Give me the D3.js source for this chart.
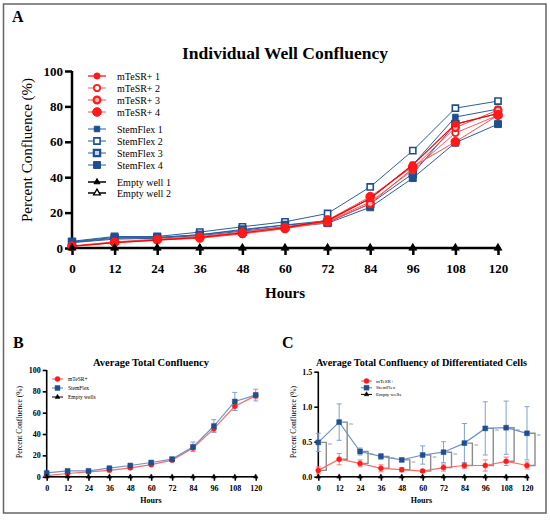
<!DOCTYPE html>
<html>
<head>
<meta charset="utf-8">
<script src="https://cdn.jsdelivr.net/npm/d3@7"></script>
<style>
  body { margin: 0; background: #fff; }
  svg { font-family: "Liberation Serif", "DejaVu Serif", serif; }
</style>
</head>
<body>
<svg width="550" height="520"></svg>
<script>
// hours sampled
const hours = [0, 12, 24, 36, 48, 60, 72, 84, 96, 108, 120];

// panel A - individual wells (% confluence)
const mtesr1 = [1, 3, 4.5, 6, 8.5, 11.5, 15.5, 28, 47, 70, 76];
const mtesr2 = [1.2, 3.5, 5, 6.5, 9, 12, 15, 26, 44, 65, 75];
const mtesr3 = [0.8, 3, 4.5, 5.5, 8, 11, 14.5, 25, 45, 68, 78];
const mtesr4 = [1, 3.2, 4.8, 6, 8.3, 11, 15.8, 29, 46, 60, 75];
const stemflex1 = [3.5, 6, 6, 7.5, 10, 13, 15.5, 28, 47, 74, 78.5];
const stemflex2 = [3.8, 6.5, 6.5, 9, 12, 14.8, 19.5, 34.5, 55, 79, 83];
const stemflex3 = [3.2, 5.5, 5.8, 7.5, 10.5, 13, 14.5, 25, 42, 70, 76];
const stemflex4 = [3, 5, 5.5, 7, 9.5, 12, 14, 23, 39.5, 59.5, 70];
const emptyWell1 = [0, 0, 0, 0, 0, 0, 0, 0, 0, 0, 0];
const emptyWell2 = [0, 0, 0, 0, 0, 0, 0, 0, 0, 0, 0];

// panel B - averages
const avgMtesr = [1, 3, 4.5, 6, 8.3, 11.3, 15.5, 27, 45, 66, 76];
const avgMtesrErr = [0.3, 0.5, 0.5, 0.6, 0.8, 1, 1, 2, 3, 4, 3];
const avgStemflex = [3.5, 5.5, 5.5, 8, 10.5, 13.3, 16.5, 28, 47.5, 70.5, 76.5];
const avgStemflexErr = [0.5, 0.8, 0.8, 1, 1, 1.2, 1.5, 4.5, 6, 8.5, 5.5];
const avgEmpty = [0, 0, 0, 0, 0, 0, 0, 0, 0, 0, 0];

// panel C - differentiated cells
const diffMtesr = [0.09, 0.25, 0.19, 0.12, 0.1, 0.08, 0.13, 0.16, 0.16, 0.22, 0.16];
const diffMtesrErr = [0.05, 0.08, 0.05, 0.05, 0.03, 0.02, 0.05, 0.04, 0.08, 0.06, 0.05];
const diffStemflex = [0.49, 0.78, 0.36, 0.29, 0.24, 0.31, 0.35, 0.48, 0.69, 0.7, 0.62];
const diffStemflexErr = [0.13, 0.26, 0.05, 0.04, 0.02, 0.13, 0.15, 0.28, 0.38, 0.38, 0.38];
const diffEmpty = [0, 0, 0, 0, 0, 0, 0, 0, 0, 0, 0];
const diffSig = ["ns", "ns", "ns", "ns", "ns", "ns", "ns", "ns", "ns", "ns", "ns"];

const red = "#ff1a1a";
const blue = "#1f4f8f";

const svg = d3.select("svg");

// outer frame
svg.append("rect")
  .attr("x", 3.5).attr("y", 4)
  .attr("width", 542.5).attr("height", 509)
  .attr("fill", "none")
  .attr("stroke", "#666")
  .attr("stroke-width", 1.5);

function panelLabel(txt, x, y) {
  svg.append("text")
    .attr("x", x).attr("y", y)
    .attr("font-weight", "bold")
    .attr("font-size", 16)
    .text(txt);
}
panelLabel("A", 12, 22);
panelLabel("B", 13, 348);
panelLabel("C", 282, 348);

function drawAxes(g, x, y, opt) {
  const ax = g.append("g")
    .attr("transform", `translate(0, ${y(0)})`)
    .call(d3.axisBottom(x).tickValues(hours).tickSize(opt.tick).tickPadding(opt.pad).tickFormat(d3.format("d")));
  const ay = g.append("g")
    .attr("transform", `translate(${x(0)}, 0)`)
    .call(d3.axisLeft(y).tickValues(opt.yTicks).tickSize(opt.tick).tickPadding(opt.padY).tickFormat(opt.yFmt));
  [ax, ay].forEach((a) => {
    a.selectAll("path, line").attr("stroke", "#000").attr("stroke-width", opt.sw);
    a.select(".domain").attr("d", a === ax
      ? `M${x(0)},0H${x(120)}`
      : `M0,${y(0)}V${y(opt.yTicks[opt.yTicks.length - 1])}`);
    a.selectAll("text")
      .attr("font-family", "Liberation Serif, serif")
      .attr("font-weight", "bold")
      .attr("font-size", opt.fs)
      .attr("fill", "#000");
  });
}

function marker(sel, m, cx, cy) {
  const sym = m.shape === "circle" ? d3.symbolCircle : m.shape === "square" ? d3.symbolSquare : d3.symbolTriangle;
  return sel.append("path")
    .attr("transform", `translate(${cx}, ${cy})`)
    .attr("d", d3.symbol(sym).size(m.size)())
    .attr("fill", m.fill)
    .attr("stroke", m.stroke)
    .attr("stroke-width", m.sw);
}

function drawSeries(g, x, y, vals, line, m) {
  g.append("path")
    .datum(vals)
    .attr("fill", "none")
    .attr("stroke", line.color)
    .attr("stroke-width", line.width)
    .attr("d", d3.line().x((d, i) => x(hours[i])).y((d) => y(d)));
  vals.forEach((v, i) => marker(g, m, x(hours[i]), y(v)));
}

function drawErr(g, x, y, vals, errs, color, sw, cap) {
  vals.forEach((v, i) => {
    const cx = x(hours[i]);
    const top = y(v + errs[i]);
    const bot = y(Math.max(0, v - errs[i]));
    g.append("path")
      .attr("d", `M${cx},${top}V${bot}M${cx - cap},${top}H${cx + cap}M${cx - cap},${bot}H${cx + cap}`)
      .attr("stroke", color)
      .attr("stroke-width", sw)
      .attr("fill", "none");
  });
}

function legend(g, items, x0, x1, tx, rows, fs) {
  items.forEach((it, i) => {
    const yy = rows[i];
    g.append("line")
      .attr("x1", x0).attr("x2", x1)
      .attr("y1", yy).attr("y2", yy)
      .attr("stroke", it.line.color)
      .attr("stroke-width", it.line.width);
    marker(g, it.m, (x0 + x1) / 2, yy);
    g.append("text")
      .attr("x", tx).attr("y", yy)
      .attr("dy", "0.35em")
      .attr("font-size", fs)
      .text(it.name);
  });
}

// ---------------- panel A ----------------
const xA = d3.scaleLinear().domain([0, 120]).range([72, 498]);
const yA = d3.scaleLinear().domain([0, 100]).range([248, 71]);
const gA = svg.append("g");

gA.append("text")
  .attr("x", 285).attr("y", 59)
  .attr("text-anchor", "middle")
  .attr("font-weight", "bold")
  .attr("font-size", 17.5)
  .text("Individual Well Confluency");

gA.append("text")
  .attr("transform", "rotate(-90)")
  .attr("x", -150).attr("y", 32)
  .attr("text-anchor", "middle")
  .attr("font-size", 15)
  .text("Percent Confluence (%)");

gA.append("text")
  .attr("x", 285).attr("y", 298)
  .attr("text-anchor", "middle")
  .attr("font-weight", "bold")
  .attr("font-size", 15)
  .text("Hours");

drawAxes(gA, xA, yA, { tick: 7, pad: 9, padY: 2, sw: 2.5, fs: 13, yTicks: [0, 20, 40, 60, 80, 100], yFmt: d3.format("d") });

const seriesA = [
  { name: "mTeSR+ 1", vals: mtesr1, line: { color: "#ff0000", width: 1.2 }, m: { shape: "circle", size: 30, fill: red, stroke: red, sw: 1 } },
  { name: "mTeSR+ 2", vals: mtesr2, line: { color: "#ff5a5a", width: 1 }, m: { shape: "circle", size: 32, fill: "#fff", stroke: red, sw: 1.8 } },
  { name: "mTeSR+ 3", vals: mtesr3, line: { color: "#ff4a4a", width: 1 }, m: { shape: "circle", size: 36, fill: "#ffb0b0", stroke: red, sw: 2.2 } },
  { name: "mTeSR+ 4", vals: mtesr4, line: { color: "#ff5050", width: 1 }, m: { shape: "circle", size: 60, fill: red, stroke: red, sw: 1 } },
  { name: "StemFlex 1", vals: stemflex1, line: { color: "#2c5e9e", width: 1 }, m: { shape: "square", size: 30, fill: blue, stroke: blue, sw: 1 } },
  { name: "StemFlex 2", vals: stemflex2, line: { color: "#2c5e9e", width: 1 }, m: { shape: "square", size: 38, fill: "#fff", stroke: blue, sw: 1.6 } },
  { name: "StemFlex 3", vals: stemflex3, line: { color: "#2c5e9e", width: 1 }, m: { shape: "square", size: 40, fill: "#c8d6ea", stroke: blue, sw: 2.2 } },
  { name: "StemFlex 4", vals: stemflex4, line: { color: "#2c5e9e", width: 1 }, m: { shape: "square", size: 48, fill: blue, stroke: blue, sw: 1 } },
  { name: "Empty well 1", vals: emptyWell1, line: { color: "#000", width: 1.5 }, m: { shape: "triangle", size: 16, fill: "#000", stroke: "#000", sw: 1 } },
  { name: "Empty well 2", vals: emptyWell2, line: { color: "#000", width: 1.5 }, m: { shape: "triangle", size: 20, fill: "#fff", stroke: "#000", sw: 1.3 } },
];

// draw blue first, red on top, empty wells last
[4, 5, 6, 7, 1, 2, 3, 0, 9, 8].forEach((k) => {
  const s = seriesA[k];
  drawSeries(gA, xA, yA, s.vals, s.line, s.m);
});

legend(gA, seriesA, 88, 106, 117, [76, 88, 100, 112, 129, 141, 153, 165, 182, 193], 10);

// ---------------- panel B ----------------
const xB = d3.scaleLinear().domain([0, 120]).range([46.7, 255.7]);
const yB = d3.scaleLinear().domain([0, 100]).range([476.7, 370]);
const gB = svg.append("g");

gB.append("text")
  .attr("x", 151).attr("y", 366)
  .attr("text-anchor", "middle")
  .attr("font-weight", "bold")
  .attr("font-size", 10.5)
  .text("Average Total Confluency");

gB.append("text")
  .attr("transform", "rotate(-90)")
  .attr("x", -422).attr("y", 22)
  .attr("text-anchor", "middle")
  .attr("font-size", 7.5)
  .text("Percent Confluence (%)");

gB.append("text")
  .attr("x", 151).attr("y", 503)
  .attr("text-anchor", "middle")
  .attr("font-weight", "bold")
  .attr("font-size", 8)
  .text("Hours");

drawAxes(gB, xB, yB, { tick: 4, pad: 5, padY: 2, sw: 1.6, fs: 8, yTicks: [0, 20, 40, 60, 80, 100], yFmt: d3.format("d") });

const seriesB = [
  { name: "mTeSR+", vals: avgMtesr, errs: avgMtesrErr, errColor: "#ff7a7a", line: { color: "#ff6b6b", width: 1.2 }, m: { shape: "circle", size: 20, fill: red, stroke: red, sw: 0.5 } },
  { name: "StemFlex", vals: avgStemflex, errs: avgStemflexErr, errColor: "#7fa2d0", line: { color: "#6e94c6", width: 1.2 }, m: { shape: "square", size: 24, fill: blue, stroke: blue, sw: 0.5 } },
  { name: "Empty wells", vals: avgEmpty, errs: null, line: { color: "#000", width: 1 }, m: { shape: "triangle", size: 10, fill: "#000", stroke: "#000", sw: 0.5 } },
];

seriesB.forEach((s) => {
  if (s.errs) drawErr(gB, xB, yB, s.vals, s.errs, s.errColor, 1, 2.5);
});
seriesB.forEach((s) => drawSeries(gB, xB, yB, s.vals, s.line, s.m));
legend(gB, seriesB, 52, 63, 68, [379, 388, 397], 5.5);

// ---------------- panel C ----------------
const xC = d3.scaleLinear().domain([0, 120]).range([318.3, 527]);
const yC = d3.scaleLinear().domain([0, 1.5]).range([476.7, 371.7]);
const gC = svg.append("g");

gC.append("text")
  .attr("x", 421.5).attr("y", 366)
  .attr("text-anchor", "middle")
  .attr("font-weight", "bold")
  .attr("font-size", 10.2)
  .text("Average Total Confluency of Differentiated Cells");

gC.append("text")
  .attr("transform", "rotate(-90)")
  .attr("x", -422).attr("y", 296)
  .attr("text-anchor", "middle")
  .attr("font-size", 7.5)
  .text("Percent Confluence (%)");

gC.append("text")
  .attr("x", 421.5).attr("y", 503)
  .attr("text-anchor", "middle")
  .attr("font-weight", "bold")
  .attr("font-size", 8)
  .text("Hours");

drawAxes(gC, xC, yC, { tick: 4, pad: 5, padY: 2, sw: 1.6, fs: 8, yTicks: [0, 0.5, 1, 1.5], yFmt: d3.format(".1f") });

// significance brackets
hours.forEach((h, i) => {
  const cx = xC(h);
  const bx = cx + 8;
  const top = yC(diffStemflex[i]);
  const bot = yC(diffMtesr[i]);
  gC.append("path")
    .attr("d", `M${cx + 3},${top}H${bx}V${bot}H${cx + 3}`)
    .attr("fill", "none")
    .attr("stroke", "#8c8c8c")
    .attr("stroke-width", 1.4);
  gC.append("text")
    .attr("x", bx + 2).attr("y", top + 3)
    .attr("font-size", 4)
    .attr("fill", "#777")
    .text(diffSig[i]);
});

const seriesC = [
  { name: "mTeSR+", vals: diffMtesr, errs: diffMtesrErr, errColor: "#ff7a7a", line: { color: "#ff6b6b", width: 1.2 }, m: { shape: "circle", size: 20, fill: red, stroke: red, sw: 0.5 } },
  { name: "StemFlex", vals: diffStemflex, errs: diffStemflexErr, errColor: "#7fa2d0", line: { color: "#6e94c6", width: 1.2 }, m: { shape: "square", size: 24, fill: blue, stroke: blue, sw: 0.5 } },
  { name: "Empty wells", vals: diffEmpty, errs: null, line: { color: "#000", width: 1 }, m: { shape: "triangle", size: 10, fill: "#000", stroke: "#000", sw: 0.5 } },
];

seriesC.forEach((s) => {
  if (s.errs) drawErr(gC, xC, yC, s.vals, s.errs, s.errColor, 1, 2.5);
});
seriesC.forEach((s) => drawSeries(gC, xC, yC, s.vals, s.line, s.m));
legend(gC, seriesC, 361, 372, 376, [381, 387.7, 394.4], 5);
</script>
</body>
</html>
